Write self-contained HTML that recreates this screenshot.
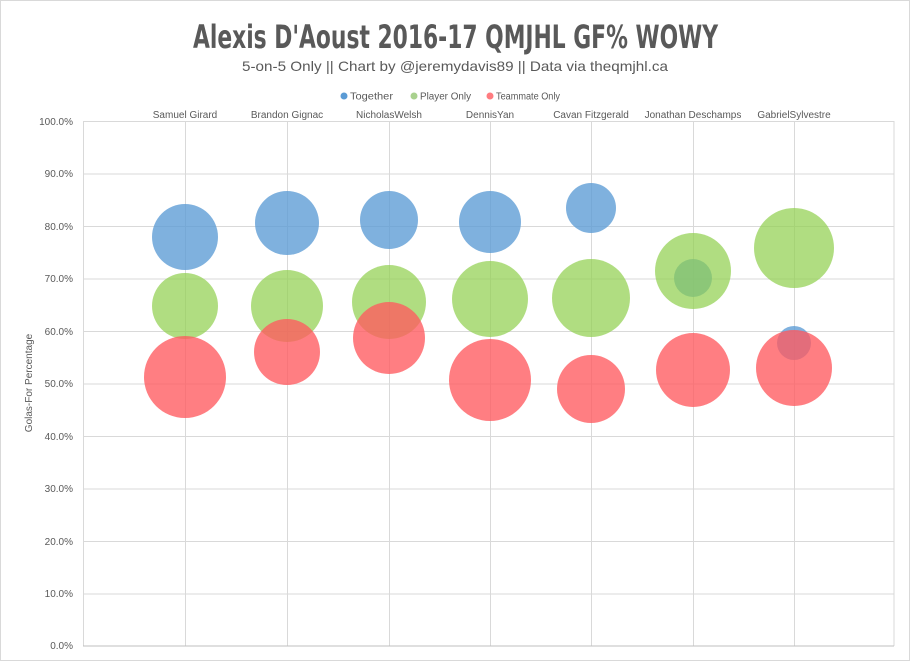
<!DOCTYPE html>
<html><head><meta charset="utf-8"><style>
body{margin:0;background:#fff;}
svg{display:block;font-family:"Liberation Sans",sans-serif;}
</style></head><body>
<svg width="910" height="661" viewBox="0 0 910 661">
<rect x="0.5" y="0.5" width="909" height="660" fill="#fff" stroke="#d9d9d9"/>
<text x="193" y="48" font-family="'DejaVu Sans Condensed','Liberation Sans Narrow',sans-serif" font-weight="bold" font-size="32" fill="#595959" textLength="525" lengthAdjust="spacingAndGlyphs">Alexis D'Aoust 2016-17 QMJHL GF% WOWY</text>
<text x="242" y="71" font-size="14" fill="#595959" textLength="426" lengthAdjust="spacingAndGlyphs">5-on-5 Only || Chart by @jeremydavis89 || Data via theqmjhl.ca</text>
<g font-size="10" fill="#595959">
<circle cx="344" cy="96" r="3.5" fill="#5b9bd5"/><text x="350" y="99.5" textLength="43" lengthAdjust="spacingAndGlyphs">Together</text>
<circle cx="414" cy="96" r="3.5" fill="#a9d18e"/><text x="420" y="99.5" textLength="51" lengthAdjust="spacingAndGlyphs">Player Only</text>
<circle cx="490" cy="96" r="3.5" fill="#ff7c80"/><text x="496" y="99.5" textLength="64" lengthAdjust="spacingAndGlyphs">Teammate Only</text>
</g>
<g stroke="#d9d9d9" stroke-width="1">
<line x1="83" x2="894" y1="121.5" y2="121.5"/><line x1="83" x2="894" y1="174" y2="174"/>
<line x1="83" x2="894" y1="226.5" y2="226.5"/><line x1="83" x2="894" y1="279" y2="279"/>
<line x1="83" x2="894" y1="331.5" y2="331.5"/><line x1="83" x2="894" y1="384" y2="384"/>
<line x1="83" x2="894" y1="436.5" y2="436.5"/><line x1="83" x2="894" y1="489" y2="489"/>
<line x1="83" x2="894" y1="541.5" y2="541.5"/><line x1="83" x2="894" y1="594" y2="594"/>
<line x1="185.5" x2="185.5" y1="121" y2="646"/><line x1="287.5" x2="287.5" y1="121" y2="646"/>
<line x1="389.5" x2="389.5" y1="121" y2="646"/><line x1="490.5" x2="490.5" y1="121" y2="646"/>
<line x1="591.5" x2="591.5" y1="121" y2="646"/><line x1="693.5" x2="693.5" y1="121" y2="646"/>
<line x1="794.5" x2="794.5" y1="121" y2="646"/><line x1="894" x2="894" y1="121" y2="646"/>
<line x1="83.5" x2="83.5" y1="121" y2="646"/>
</g>
<line x1="83" x2="894" y1="646" y2="646" stroke="#bfbfbf"/>
<g font-size="10" fill="#595959" text-anchor="end">
<text x="73" y="125">100.0%</text><text x="73" y="177">90.0%</text><text x="73" y="230">80.0%</text>
<text x="73" y="282">70.0%</text><text x="73" y="335">60.0%</text><text x="73" y="387">50.0%</text>
<text x="73" y="440">40.0%</text><text x="73" y="492">30.0%</text><text x="73" y="545">20.0%</text>
<text x="73" y="597">10.0%</text><text x="73" y="649">0.0%</text>
</g>
<g font-size="10" fill="#595959" text-anchor="middle">
<text x="185" y="118">Samuel Girard</text><text x="287" y="118">Brandon Gignac</text>
<text x="389" y="118">NicholasWelsh</text><text x="490" y="118">DennisYan</text>
<text x="591" y="118">Cavan Fitzgerald</text><text x="693" y="118">Jonathan Deschamps</text>
<text x="794" y="118">GabrielSylvestre</text>
</g>
<text transform="translate(32,383) rotate(-90)" font-size="10" fill="#595959" text-anchor="middle">Golas-For Percentage</text>
<g fill="#5b9bd5" fill-opacity="0.78">
<circle cx="185" cy="237" r="33"/><circle cx="287" cy="223" r="32"/><circle cx="389" cy="220" r="29"/>
<circle cx="490" cy="222" r="31"/><circle cx="591" cy="208" r="25"/><circle cx="693" cy="278" r="19"/>
<circle cx="794" cy="343" r="17"/>
</g>
<g fill="#92d050" fill-opacity="0.72">
<circle cx="185" cy="306" r="33"/><circle cx="287" cy="306" r="36"/><circle cx="389" cy="302" r="37"/>
<circle cx="490" cy="299" r="38"/><circle cx="591" cy="298" r="39"/><circle cx="693" cy="271" r="38"/>
<circle cx="794" cy="248" r="40"/>
</g>
<g fill="#ff5a5f" fill-opacity="0.78">
<circle cx="185" cy="377" r="41"/><circle cx="287" cy="352" r="33"/><circle cx="389" cy="338" r="36"/>
<circle cx="490" cy="380" r="41"/><circle cx="591" cy="389" r="34"/><circle cx="693" cy="370" r="37"/>
<circle cx="794" cy="368" r="38"/>
</g>
</svg>
</body></html>
